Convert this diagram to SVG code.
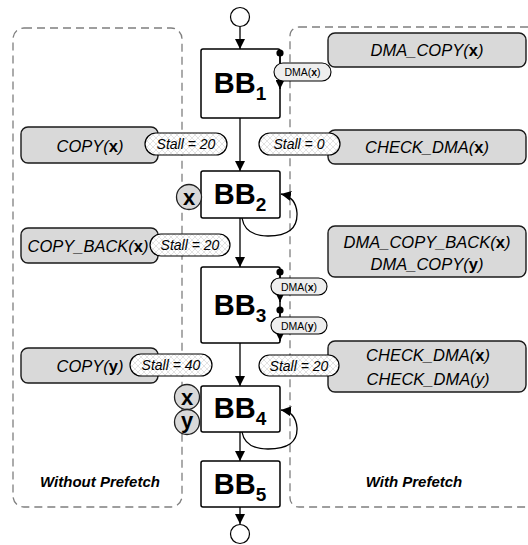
<svg xmlns="http://www.w3.org/2000/svg" width="528" height="545" viewBox="0 0 528 545">
<style>
.region{fill:none;stroke:#7f7f7f;stroke-width:1.3;stroke-dasharray:8,5}
.bb{fill:#fff;stroke:#000;stroke-width:1.5}
.bbt{font-family:"Liberation Sans",Arial,sans-serif;font-weight:bold;font-size:29px;fill:#000;text-anchor:middle}
.gray{fill:#d9d9d9;stroke:#1a1a1a;stroke-width:1.4}
.gt{font-family:"Liberation Sans",Arial,sans-serif;font-style:italic;font-size:16.5px;fill:#000;text-anchor:middle}
.stall{fill:url(#hatch);stroke:#000;stroke-width:1.2}
.st{font-family:"Liberation Sans",Arial,sans-serif;font-style:italic;font-size:14px;fill:#000;text-anchor:middle}
.dma{fill:#eeeeee;stroke:#000;stroke-width:1.1}
.dt{font-family:"Liberation Sans",Arial,sans-serif;font-size:10.5px;fill:#000;text-anchor:middle}
.var{fill:#d9d9d9;stroke:#222;stroke-width:1.3}
.vt{font-family:"Liberation Sans",Arial,sans-serif;font-weight:bold;font-size:22px;fill:#000;text-anchor:middle}
.lbl{font-family:"Liberation Sans",Arial,sans-serif;font-weight:bold;font-style:italic;font-size:15px;fill:#000;text-anchor:middle}
.term{fill:#fff;stroke:#000;stroke-width:1.2}
.edge{fill:none;stroke:#000;stroke-width:1.3}
.b{font-weight:bold;font-style:normal}
</style>
<defs>
<pattern id="hatch" width="6" height="6" patternUnits="userSpaceOnUse">
<rect width="6" height="6" fill="#fff"/>
<path d="M0,0 L6,6 M6,0 L0,6" stroke="#dcdcdc" stroke-width="0.8"/>
</pattern>
<marker id="arr" markerUnits="userSpaceOnUse" markerWidth="10" markerHeight="10" refX="10" refY="5" orient="auto">
<path d="M0,0 L10,5 L0,10 z" fill="#000"/>
</marker>
<marker id="arrs" markerUnits="userSpaceOnUse" markerWidth="9" markerHeight="9" refX="9" refY="4.5" orient="auto">
<path d="M0,0 L9,4.5 L0,9 z" fill="#000"/>
</marker>
<marker id="dot" markerUnits="userSpaceOnUse" markerWidth="8" markerHeight="8" refX="4" refY="4" orient="auto">
<circle cx="4" cy="4" r="3.6" fill="#000"/>
</marker>
</defs>
<rect width="528" height="545" fill="#fff"/>

<g id="region-without">
<rect class="region" x="13" y="28" width="169" height="479" rx="11"/>
<text class="lbl" x="100" y="487">Without Prefetch</text>
</g>
<g id="region-with">
<rect class="region" x="290" y="27" width="250" height="480" rx="9"/>
<text class="lbl" x="414" y="487">With Prefetch</text>
</g>

<g id="start"><circle class="term" cx="240" cy="17" r="9.5"/></g>
<g id="end"><circle class="term" cx="240" cy="534" r="9.5"/></g>

<g id="BB1">
<rect class="bb" x="201" y="49" width="79" height="69" rx="2"/>
<text class="bbt" x="240" y="93">BB<tspan font-size="19" dy="7">1</tspan></text>
</g>
<g id="BB2">
<rect class="bb" x="201" y="171" width="79" height="47" rx="2"/>
<text class="bbt" x="240" y="204">BB<tspan font-size="19" dy="7">2</tspan></text>
</g>
<g id="BB3">
<rect class="bb" x="201" y="267" width="79" height="76" rx="2"/>
<text class="bbt" x="240" y="315">BB<tspan font-size="19" dy="7">3</tspan></text>
</g>
<g id="BB4">
<rect class="bb" x="201" y="386" width="79" height="46" rx="2"/>
<text class="bbt" x="240" y="418">BB<tspan font-size="19" dy="7">4</tspan></text>
</g>
<g id="BB5">
<rect class="bb" x="201" y="461" width="79" height="46" rx="2"/>
<text class="bbt" x="240" y="494">BB<tspan font-size="19" dy="7">5</tspan></text>
</g>

<g id="connectors">
<line class="edge" x1="240" y1="27" x2="240" y2="49" marker-end="url(#arr)"/>
<line class="edge" x1="240" y1="118" x2="240" y2="171" marker-end="url(#arr)"/>
<line class="edge" x1="240" y1="218" x2="240" y2="267" marker-end="url(#arr)"/>
<line class="edge" x1="240" y1="343" x2="240" y2="386" marker-end="url(#arr)"/>
<line class="edge" x1="240" y1="432" x2="240" y2="461" marker-end="url(#arr)"/>
<line class="edge" x1="240" y1="507" x2="240" y2="524" marker-end="url(#arr)"/>
<path class="edge" d="M242,218 Q245,236 268,236 Q298,236 297,213 Q296,197 281,194" marker-end="url(#arr)"/>
<path class="edge" d="M242,432 Q245,449 268,449 Q298,449 297,428 Q296,412 281,410" marker-end="url(#arr)"/>
<line class="edge" x1="280" y1="53" x2="280" y2="89" marker-start="url(#dot)" marker-end="url(#arrs)"/>
<line class="edge" x1="280" y1="272" x2="280" y2="302" marker-start="url(#dot)" marker-end="url(#arrs)"/>
<line class="edge" x1="280" y1="310" x2="280" y2="341" marker-start="url(#dot)" marker-end="url(#arrs)"/>
</g>

<g id="dma-bb1">
<rect class="dma" x="274" y="63" width="57" height="18" rx="9"/>
<text class="dt" x="302.5" y="76">DMA(<tspan font-weight="bold">x</tspan>)</text>
</g>
<g id="dma-bb3-x">
<rect class="dma" x="271" y="278" width="56" height="17" rx="8.5"/>
<text class="dt" x="299" y="290.5">DMA(<tspan font-weight="bold">x</tspan>)</text>
</g>
<g id="dma-bb3-y">
<rect class="dma" x="271" y="317" width="56" height="17" rx="8.5"/>
<text class="dt" x="299" y="329.5">DMA(<tspan font-weight="bold">y</tspan>)</text>
</g>

<g id="var-x-bb2">
<circle class="var" cx="189" cy="197" r="12.5"/>
<text class="vt" x="189" y="204.5">x</text>
</g>
<g id="var-x-bb4">
<circle class="var" cx="187" cy="397" r="12.5"/>
<text class="vt" x="187" y="404.5">x</text>
</g>
<g id="var-y-bb4">
<circle class="var" cx="187" cy="422" r="12.5"/>
<text class="vt" x="187" y="428">y</text>
</g>

<g id="copy-x">
<rect class="gray" x="21" y="127" width="137" height="36" rx="7"/>
<text class="gt" x="90" y="152">COPY(<tspan class="b">x</tspan>)</text>
</g>
<g id="stall-copy-x">
<rect class="stall" x="145" y="133" width="82" height="22" rx="11"/>
<text class="st" x="186" y="149">Stall = 20</text>
</g>
<g id="copy-back-x">
<rect class="gray" x="21" y="228" width="137" height="35" rx="7"/>
<text class="gt" x="88" y="252">COPY_BACK(<tspan class="b">x</tspan>)</text>
</g>
<g id="stall-copy-back-x">
<rect class="stall" x="150" y="234" width="80" height="22" rx="11"/>
<text class="st" x="190" y="250">Stall = 20</text>
</g>
<g id="copy-y">
<rect class="gray" x="21" y="348" width="137" height="35" rx="7"/>
<text class="gt" x="90" y="372">COPY(<tspan class="b">y</tspan>)</text>
</g>
<g id="stall-copy-y">
<rect class="stall" x="130" y="354" width="82" height="22" rx="11"/>
<text class="st" x="171" y="370">Stall = 40</text>
</g>

<g id="dma-copy-x">
<rect class="gray" x="328" y="33" width="198" height="34" rx="7"/>
<text class="gt" x="427" y="56">DMA_COPY(<tspan class="b">x</tspan>)</text>
</g>
<g id="check-dma-x">
<rect class="gray" x="328" y="130" width="198" height="34" rx="7"/>
<text class="gt" x="427" y="153">CHECK_DMA(<tspan class="b">x</tspan>)</text>
</g>
<g id="stall-check-x">
<rect class="stall" x="259" y="133" width="81" height="22" rx="11"/>
<text class="st" x="299" y="149">Stall = 0</text>
</g>
<g id="dma-copy-back-x-copy-y">
<rect class="gray" x="328" y="226" width="198" height="51" rx="7"/>
<text class="gt" x="427" y="248">DMA_COPY_BACK(<tspan class="b">x</tspan>)</text>
<text class="gt" x="427" y="270">DMA_COPY(<tspan class="b">y</tspan>)</text>
</g>
<g id="check-dma-xy">
<rect class="gray" x="328" y="341" width="198" height="51" rx="7"/>
<text class="gt" x="428" y="361">CHECK_DMA(<tspan class="b">x</tspan>)</text>
<text class="gt" x="428" y="385">CHECK_DMA(y)</text>
</g>
<g id="stall-check-xy">
<rect class="stall" x="259" y="355" width="80" height="21" rx="10.5"/>
<text class="st" x="299" y="370.5">Stall = 20</text>
</g>
</svg>
